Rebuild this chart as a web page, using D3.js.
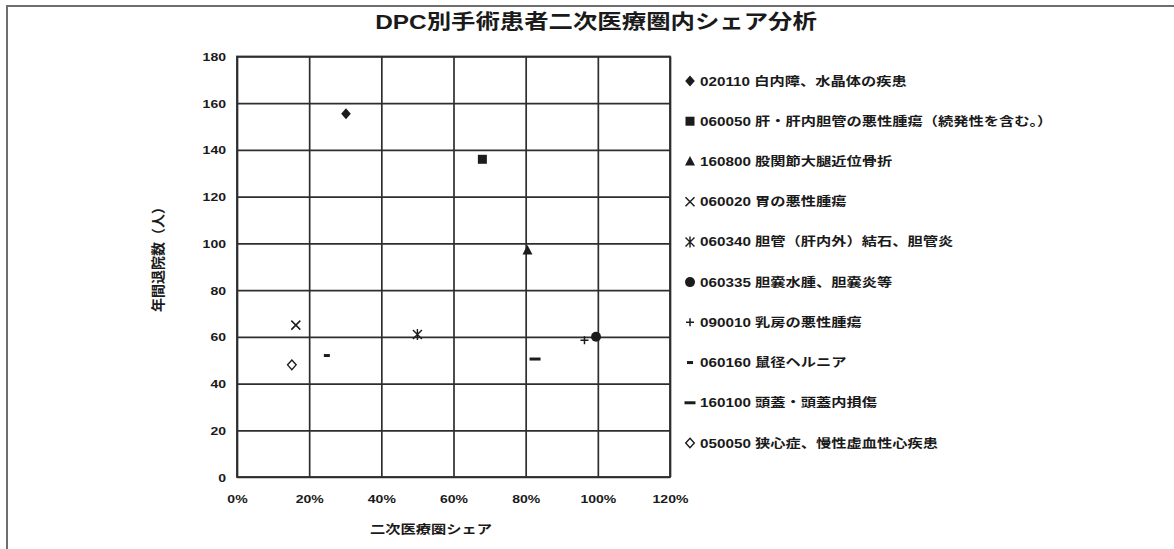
<!DOCTYPE html>
<html>
<head>
<meta charset="utf-8">
<script src="https://cdn.jsdelivr.net/npm/d3@7"></script>
<style>
  html, body { margin: 0; padding: 0; background: #fff; }
  svg { display: block; }
  text { font-family: "Liberation Sans", "Noto Sans CJK JP", sans-serif; fill: #1a1a1a; }
</style>
</head>
<body>
<svg id="chart" width="1174" height="549"></svg>
<script>
// DPC codes, names and their share / yearly discharge counts
const codes = ["020110", "060050", "160800", "060020", "060340", "060335", "090010", "060160", "160100", "050050"];
const names = [
  "白内障、水晶体の疾患",
  "肝・肝内胆管の悪性腫瘍（続発性を含む。）",
  "股関節大腿近位骨折",
  "胃の悪性腫瘍",
  "胆管（肝内外）結石、胆管炎",
  "胆嚢水腫、胆嚢炎等",
  "乳房の悪性腫瘍",
  "鼠径ヘルニア",
  "頭蓋・頭蓋内損傷",
  "狭心症、慢性虚血性心疾患"
];
const shares   = [0.302, 0.68, 0.805, 0.163, 0.50, 0.995, 0.963, 0.249, 0.826, 0.152];
const patients = [155.5, 136, 97, 65, 61, 60, 58.5, 52, 50.5, 48];
const markers  = ["diamond", "square", "triangle", "cross", "asterisk", "circle", "plus", "dashShort", "dashLong", "diamondOpen"];

const yTicks = [0, 20, 40, 60, 80, 100, 120, 140, 160, 180];
const xTicks = [0, 0.2, 0.4, 0.6, 0.8, 1.0, 1.2];
const title = "DPC別手術患者二次医療圏内シェア分析";
const xTitle = "二次医療圏シェア";
const yTitle = "年間退院数（人）";

const svg = d3.select("#chart");
const ink = "#1c1c1c";
const gridInk = "#2e2e2e";
const SX = 1.22; // text is drawn a little wider than tall

const x = d3.scaleLinear().domain([0, 1.2]).range([237, 670]);
const y = d3.scaleLinear().domain([0, 180]).range([477, 56.5]);

// outer frame (top and left edges visible)
svg.append("path")
  .attr("d", "M7,549 L7,6 L1174,6")
  .attr("fill", "none").attr("stroke", "#6e6e6e").attr("stroke-width", 2);

function wideText(parent, px, py, str, size, anchor, weight) {
  const g = parent.append("g").attr("transform", `translate(${px},${py}) scale(${SX},1)`);
  return g.append("text")
    .attr("text-anchor", anchor || "start")
    .attr("font-size", size)
    .attr("font-weight", weight || "bold")
    .text(str);
}

// title
wideText(svg, 596, 29, title, 20, "middle");

// grid + axes
const yAxis = d3.axisLeft(y).tickValues(yTicks).tickSize(-(x(1.2) - x(0))).tickPadding(0);
const gy = svg.append("g").attr("transform", `translate(${x(0)},0)`).call(yAxis);
gy.select(".domain").remove();
gy.selectAll(".tick line").attr("stroke", gridInk).attr("stroke-width", 1.7);
gy.selectAll(".tick text")
  .attr("x", -11 / SX).attr("dy", "0.35em")
  .attr("transform", `scale(${SX},1)`)
  .attr("font-size", 11.5).attr("font-weight", "bold")
  .attr("font-family", "Liberation Sans, sans-serif").attr("fill", ink);

const xAxis = d3.axisBottom(x).tickValues(xTicks).tickSize(-(y(0) - y(180))).tickFormat(d3.format(".0%"));
const gx = svg.append("g").attr("transform", `translate(0,${y(0)})`).call(xAxis);
gx.select(".domain").remove();
gx.selectAll(".tick line").attr("stroke", gridInk).attr("stroke-width", 1.7);
gx.selectAll(".tick text")
  .attr("y", 26).attr("dy", 0)
  .attr("transform", `scale(${SX},1)`)
  .attr("font-size", 11.5).attr("font-weight", "bold")
  .attr("font-family", "Liberation Sans, sans-serif").attr("fill", ink);

// plot frame
svg.append("rect")
  .attr("x", x(0)).attr("y", y(180))
  .attr("width", x(1.2) - x(0)).attr("height", y(0) - y(180))
  .attr("fill", "none").attr("stroke", gridInk).attr("stroke-width", 1.8);

// axis titles
wideText(svg, 431, 534, xTitle, 12.5, "middle");
svg.append("text")
  .attr("transform", `translate(163,256) rotate(-90)`)
  .attr("text-anchor", "middle")
  .attr("font-size", 14).attr("font-weight", "bold")
  .attr("font-family", "Noto Sans CJK JP, sans-serif")
  .text(yTitle);

// marker shapes
function drawMarker(g, kind) {
  const fillS = { fill: ink, stroke: "none" };
  switch (kind) {
    case "diamond":
      g.append("path").attr("d", "M0,-5.5 L4.8,0 L0,5.5 L-4.8,0 Z").attr("fill", ink); break;
    case "square":
      g.append("rect").attr("x", -4.5).attr("y", -4.5).attr("width", 9).attr("height", 9).attr("fill", ink); break;
    case "triangle":
      g.append("path").attr("d", "M0,-5.5 L5,4 L-5,4 Z").attr("fill", ink); break;
    case "cross":
      g.append("path").attr("d", "M-4.5,-4.5 L4.5,4.5 M4.5,-4.5 L-4.5,4.5")
        .attr("stroke", ink).attr("stroke-width", 1.5).attr("fill", "none"); break;
    case "asterisk":
      g.append("path").attr("d", "M-4.5,-4.5 L4.5,4.5 M4.5,-4.5 L-4.5,4.5 M0,-5.5 L0,5.5")
        .attr("stroke", ink).attr("stroke-width", 1.4).attr("fill", "none"); break;
    case "circle":
      g.append("circle").attr("r", 5).attr("fill", ink); break;
    case "plus":
      g.append("path").attr("d", "M-4,0 L4,0 M0,-4 L0,4")
        .attr("stroke", ink).attr("stroke-width", 1.5).attr("fill", "none"); break;
    case "dashShort":
      g.append("rect").attr("x", -3).attr("y", -1.5).attr("width", 6).attr("height", 3).attr("fill", ink); break;
    case "dashLong":
      g.append("rect").attr("x", -5.5).attr("y", -1.5).attr("width", 11).attr("height", 3).attr("fill", ink); break;
    case "diamondOpen":
      g.append("path").attr("d", "M0,-4.8 L4.3,0 L0,4.8 L-4.3,0 Z")
        .attr("fill", "#fff").attr("stroke", ink).attr("stroke-width", 1.4); break;
  }
}

// points
const pts = svg.append("g").selectAll("g.pt")
  .data(codes.map((c, i) => ({ code: c, share: shares[i], n: patients[i], kind: markers[i] })))
  .join("g").attr("class", "pt")
  .attr("transform", d => `translate(${x(d.share)},${y(d.n)})`);
pts.each(function (d) { drawMarker(d3.select(this), d.kind); });

// legend
const legendRowY = d3.scalePoint().domain(codes).range([81, 443]);
const lg = svg.append("g");
codes.forEach((c, i) => {
  const row = lg.append("g").attr("transform", `translate(690,${legendRowY(c)})`);
  drawMarker(row.append("g"), markers[i]);
  wideText(row, 10, 4.5, c + " " + names[i], 12.5, "start");
});
</script>
</body>
</html>
